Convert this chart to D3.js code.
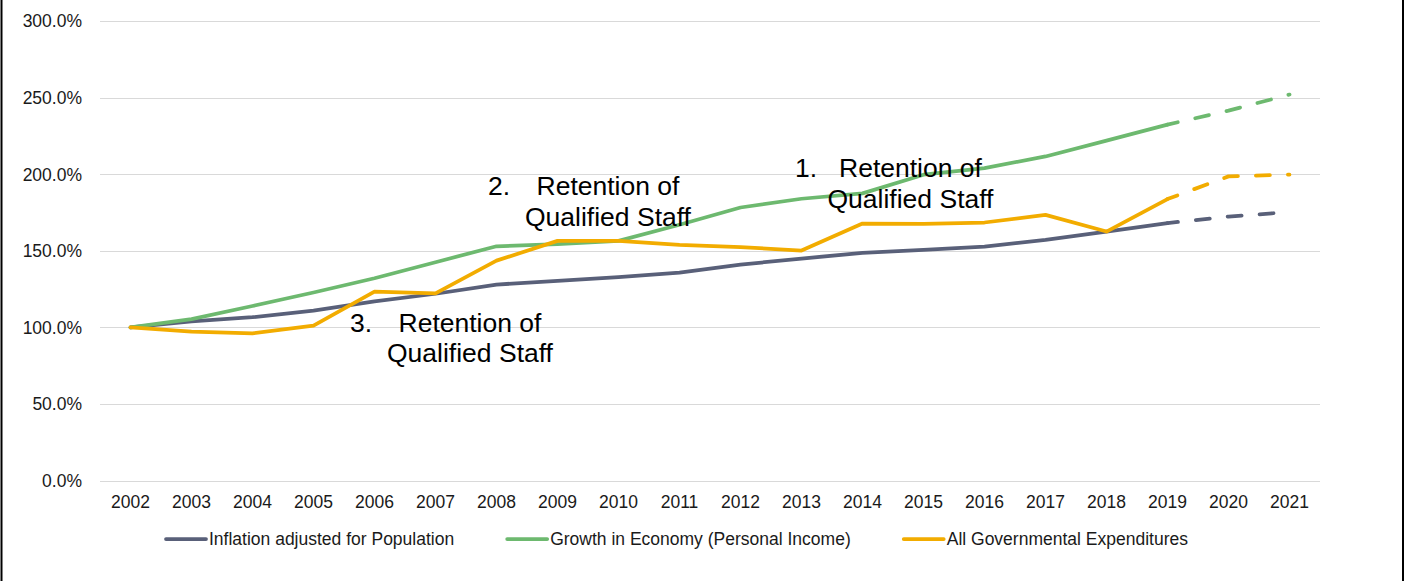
<!DOCTYPE html>
<html>
<head>
<meta charset="utf-8">
<script src="https://cdn.jsdelivr.net/npm/d3@7"></script>
<style>
  body { margin: 0; background: #fff; }
  svg { display: block; font-family: "Liberation Sans", Arial, sans-serif; }
</style>
</head>
<body>
<svg></svg>
<script>
// chart values
const years = ["2002", "2003", "2004", "2005", "2006", "2007", "2008", "2009", "2010", "2011",
  "2012", "2013", "2014", "2015", "2016", "2017", "2018", "2019", "2020", "2021"];
const inflation = [100, 104, 106.7, 111, 117, 122, 128, 130.4, 132.8, 135.8,
  141, 145, 148.7, 150.7, 152.8, 157.2, 162.6, 168.1, 172.4, 175.3];
const growth = [100, 105.4, 114, 122.8, 132.1, 142.6, 153, 154.4, 156.5, 167,
  178.3, 184, 187.5, 199.7, 204, 211.6, 221.9, 232.4, 241.5, 252];
const expenditures = [100, 97.3, 96.2, 101.2, 123.4, 122.3, 143.6, 156.5, 156.5, 153.9,
  152.4, 150.2, 167.8, 167.6, 168.5, 173.5, 162.6, 183.8, 198.6, 199.7];
const seriesNames = ["Inflation adjusted for Population", "Growth in Economy (Personal Income)", "All Governmental Expenditures"];
const yTicks = [0, 50, 100, 150, 200, 250, 300];
const lastActual = "2019"; // dashed after this year
const notes = [
  { num: "1.", lines: ["Retention of", "Qualified Staff"] },
  { num: "2.", lines: ["Retention of", "Qualified Staff"] },
  { num: "3.", lines: ["Retention of", "Qualified Staff"] }
];

const W = 1417, H = 581;
const colors = ["#596079", "#6db96f", "#f2ac00"];
const fontSize = 17.5;

const svg = d3.select("svg").attr("width", W).attr("height", H);

// frame lines on the sides
svg.append("line").attr("x1", 1.5).attr("x2", 1.5).attr("y1", 0).attr("y2", H)
  .attr("stroke", "#000").attr("stroke-width", 2);
svg.append("line").attr("x1", 1403).attr("x2", 1403).attr("y1", 0).attr("y2", H)
  .attr("stroke", "#000").attr("stroke-width", 2);

const x = d3.scaleBand().domain(years).range([100, 1320]);
const y = d3.scaleLinear().domain([0, 300]).range([480.7, 21]);

// gridlines + y labels
const yAxis = svg.append("g");
yAxis.selectAll("line").data(yTicks).join("line")
  .attr("x1", 100).attr("x2", 1320)
  .attr("y1", d => Math.round(y(d)) + 0.5).attr("y2", d => Math.round(y(d)) + 0.5)
  .attr("stroke", "#d9d9d9").attr("stroke-width", 1);
yAxis.selectAll("text").data(yTicks).join("text")
  .attr("x", 82).attr("y", d => y(d)).attr("dy", "0.36em")
  .attr("text-anchor", "end").attr("font-size", fontSize).attr("fill", "#1a1a1a")
  .text(d => d3.format(".1f")(d) + "%");

// x labels
svg.append("g").selectAll("text").data(years).join("text")
  .attr("x", d => x(d) + x.bandwidth() / 2).attr("y", 508)
  .attr("text-anchor", "middle").attr("font-size", fontSize).attr("fill", "#1a1a1a")
  .text(d => d);

// lines
const series = [inflation, growth, expenditures];
const line = d3.line().x(d => x(d.year) + x.bandwidth() / 2).y(d => y(d.v));
const cut = years.indexOf(lastActual);

series.forEach((vals, i) => {
  const pts = vals.map((v, j) => ({ year: years[j], v }));
  const g = svg.append("g").attr("fill", "none").attr("stroke", colors[i])
    .attr("stroke-width", 3.75).attr("stroke-linecap", "round").attr("stroke-linejoin", "round");
  g.append("path").attr("d", line(pts.slice(0, cut + 1)));
  g.append("path").attr("d", line(pts.slice(cut)))
    .attr("stroke-dasharray", "14,18").attr("stroke-dashoffset", 3.5);
});

// annotations
const notePos = [
  { nx: 795, cx: 910.5, y0: 177 },
  { nx: 488, cx: 608, y0: 195 },
  { nx: 350, cx: 470, y0: 331.5 }
];
notes.forEach((n, i) => {
  const p = notePos[i];
  const g = svg.append("g").attr("font-size", 26.5).attr("fill", "#000");
  g.append("text").attr("x", p.nx).attr("y", p.y0).text(n.num);
  n.lines.forEach((t, k) => {
    g.append("text").attr("x", p.cx).attr("y", p.y0 + k * 30.5)
      .attr("text-anchor", "middle").text(t);
  });
});

// legend
const legend = svg.append("g").attr("transform", "translate(166,539)");
let lx = 0;
seriesNames.forEach((name, i) => {
  const item = legend.append("g").attr("transform", `translate(${lx},0)`);
  item.append("line").attr("x1", 0).attr("x2", 40).attr("y1", 0).attr("y2", 0)
    .attr("stroke", colors[i]).attr("stroke-width", 3.75).attr("stroke-linecap", "round");
  const t = item.append("text").attr("x", 43).attr("y", 0).attr("dy", "0.36em")
    .attr("font-size", fontSize).attr("fill", "#1a1a1a").text(name);
  lx += 43 + t.node().getComputedTextLength() + 53;
});
</script>
</body>
</html>
